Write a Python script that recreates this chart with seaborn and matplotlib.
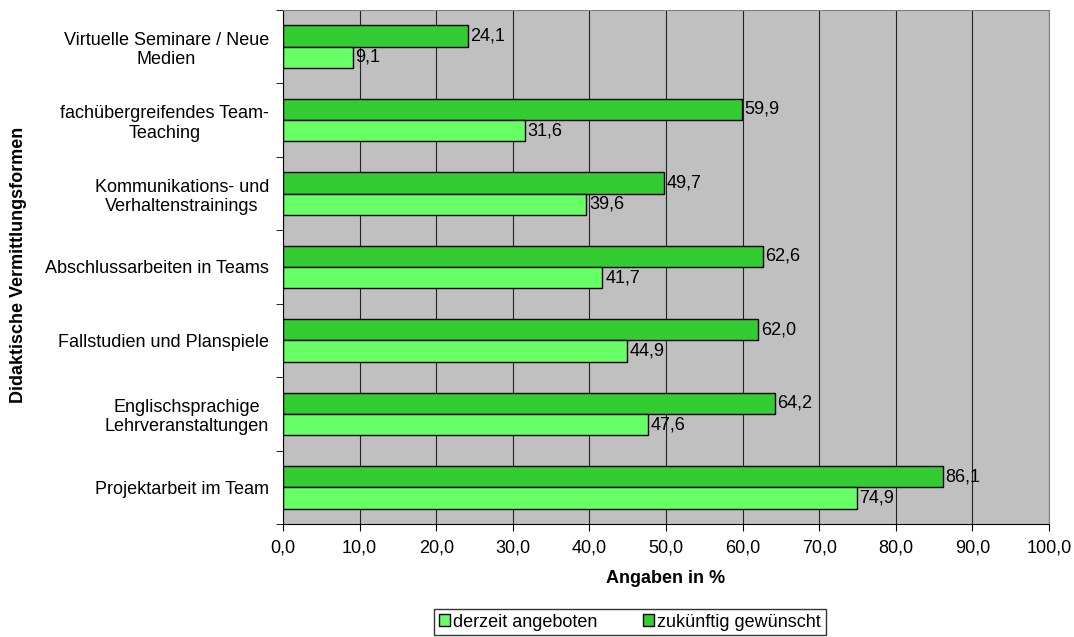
import seaborn as sns
import pandas as pd
import matplotlib.pyplot as plt
from matplotlib.patches import Patch
from matplotlib.ticker import MultipleLocator, FuncFormatter

categories = [
    "Virtuelle Seminare / Neue\nMedien",
    "fachübergreifendes Team-\nTeaching",
    "Kommunikations- und\nVerhaltenstrainings",
    "Abschlussarbeiten in Teams",
    "Fallstudien und Planspiele",
    "Englischsprachige\nLehrveranstaltungen",
    "Projektarbeit im Team",
]
derzeit = [9.1, 31.6, 39.6, 41.7, 44.9, 47.6, 74.9]
zukuenftig = [24.1, 59.9, 49.7, 62.6, 62.0, 64.2, 86.1]
series = ["zukünftig gewünscht", "derzeit angeboten"]
colors = {"zukünftig gewünscht": "#33CC33", "derzeit angeboten": "#66FF66"}

df = pd.DataFrame({
    "Form": categories * 2,
    "Wert": zukuenftig + derzeit,
    "Serie": [series[0]] * len(categories) + [series[1]] * len(categories),
})

sns.set_style("white")
plt.rcParams['font.family'] = ['Liberation Sans', 'DejaVu Sans']
plt.rcParams['text.color'] = 'black'
plt.rcParams['xtick.color'] = 'black'
plt.rcParams['ytick.color'] = 'black'
fs = 13

fig = plt.figure(figsize=(10.74, 6.37), dpi=100)
ax = fig.add_axes([0.2635, 0.1774, 0.7132, 0.8069])

sns.barplot(data=df, y="Form", x="Wert", hue="Serie", hue_order=series,
            order=categories, palette=colors, saturation=1, orient="h", width=0.58,
            edgecolor="black", linewidth=1, ax=ax, legend=False)

for cont in ax.containers:
    ax.bar_label(cont, labels=[f"{v:.1f}".replace(".", ",") for v in cont.datavalues],
                 padding=2, fontsize=fs, color="black")

ax.set_facecolor("#C0C0C0")
ax.set_xlim(0, 100)
ax.set_ylim(len(categories) - 0.5, -0.5)
ax.xaxis.set_major_locator(MultipleLocator(10))
ax.xaxis.set_major_formatter(FuncFormatter(lambda v, p: f"{v:.1f}".replace(".", ",")))
ax.grid(axis="x", color="#222222", linewidth=0.8)
ax.set_axisbelow(True)

ax.set_yticks(range(len(categories)))
ax.set_yticklabels(categories, fontsize=fs, ha="right", multialignment="center")
ax.tick_params(axis="y", length=0, pad=10)
ax.set_yticks([i - 0.5 for i in range(len(categories) + 1)], minor=True)
ax.tick_params(axis="y", which="minor", length=5, color="black", left=True)
ax.tick_params(axis="x", length=5, color="black", bottom=True, labelsize=fs, pad=6)

for s in ["top", "right"]:
    ax.spines[s].set_color("#808080")
ax.spines["left"].set_color("black")
ax.spines["bottom"].set_color("black")

ax.set_xlabel("Angaben in %", fontsize=fs, fontweight="bold", labelpad=10, color="black")
ax.set_ylabel("")
fig.text(0.017, 0.584, "Didaktische Vermittlungsformen", rotation=90,
         fontsize=fs, fontweight="bold", va="center", ha="center")

handles = [Patch(facecolor=colors["derzeit angeboten"], edgecolor="black", label="derzeit angeboten"),
           Patch(facecolor=colors["zukünftig gewünscht"], edgecolor="black", label="zukünftig gewünscht")]
leg = fig.legend(handles=handles, loc="center", bbox_to_anchor=(0.5866, 0.0235), ncol=2,
                 fontsize=fs, frameon=True, fancybox=False, handlelength=0.6,
                 handleheight=0.6, handletextpad=0.2, columnspacing=2.5,
                 borderpad=0.25, borderaxespad=0)
leg.get_frame().set_edgecolor("black")
leg.get_frame().set_linewidth(1)

fig.savefig("out.png", dpi=100)
